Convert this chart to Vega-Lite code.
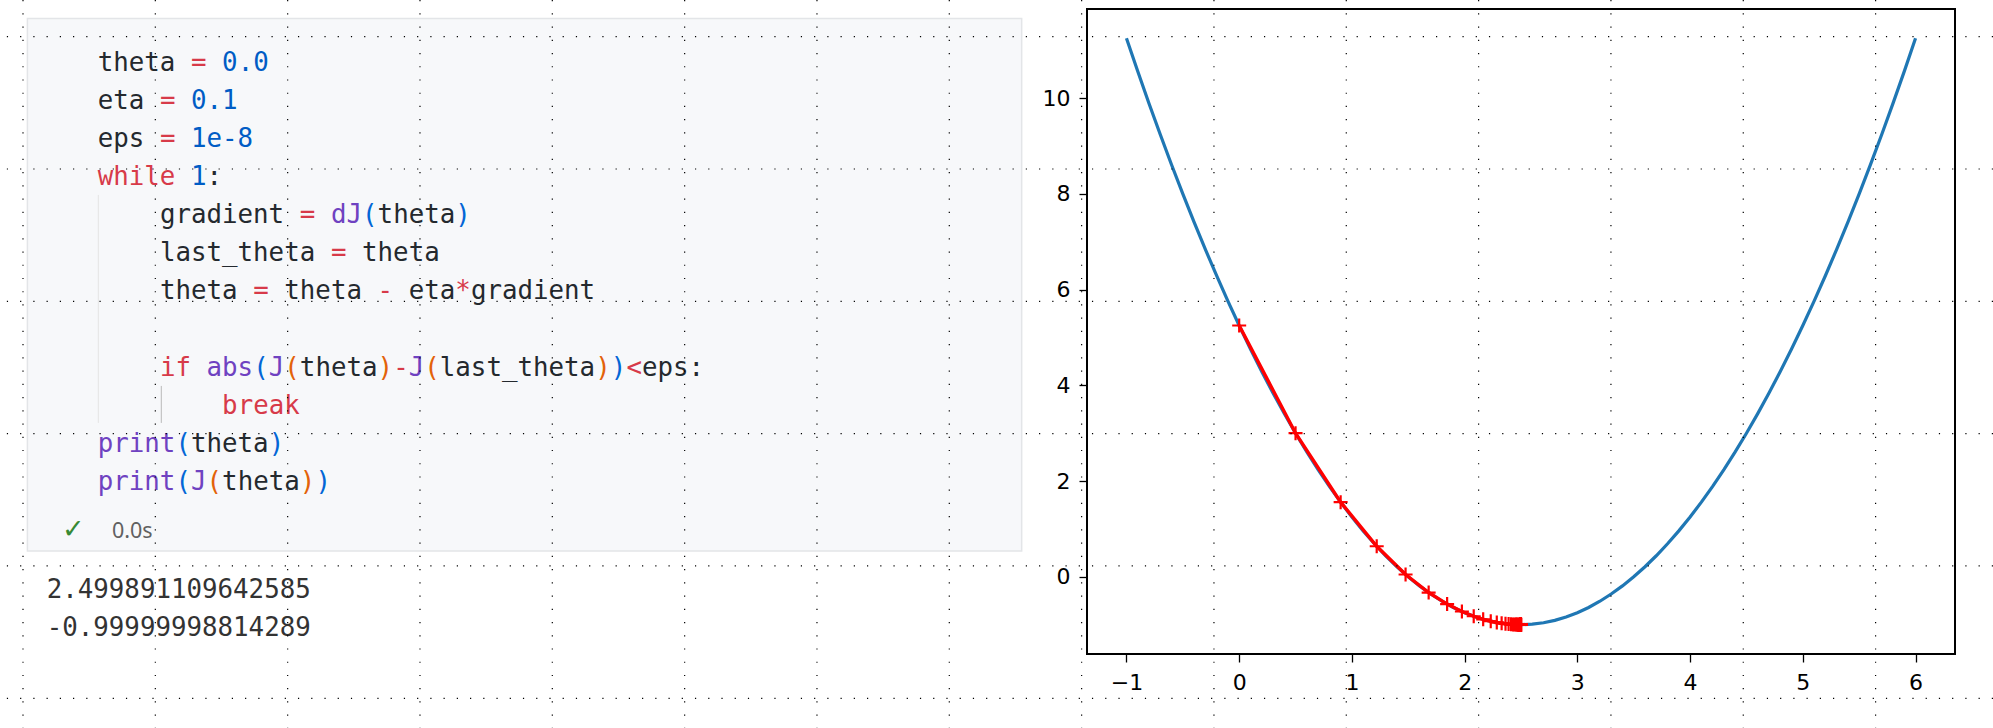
{
  "$schema": "https://vega.github.io/schema/vega-lite/v6.json",
  "width": 1993,
  "height": 728,
  "padding": 0,
  "autosize": {"type": "none"},
  "background": "white",
  "config": {"view": {"stroke": null}},
  "datasets": {
    "gridv": [{"gx":0},{"gx":1},{"gx":2},{"gx":3},{"gx":4},{"gx":5},{"gx":6},{"gx":7},{"gx":8},{"gx":9},{"gx":10},{"gx":11},{"gx":12},{"gx":13},{"gx":14}],
    "gridh": [{"gy":0},{"gy":1},{"gy":2},{"gy":3},{"gy":4},{"gy":5}],
    "cell": [{"c1":-4.52,"c2":59.42,"l1":-1.369,"l2":12.6}],
    "guides": [{"col":0.04,"l1":3.26,"l2":9.24,"kind":"inactive"},{"col":4.09,"l1":8.27,"l2":9.24,"kind":"active"}],
    "code": [
      {"line":0,"col":0,"text":"theta","kind":"t"},{"line":0,"col":6,"text":"=","kind":"o"},{"line":0,"col":8,"text":"0.0","kind":"n"},
      {"line":1,"col":0,"text":"eta","kind":"t"},{"line":1,"col":4,"text":"=","kind":"o"},{"line":1,"col":6,"text":"0.1","kind":"n"},
      {"line":2,"col":0,"text":"eps","kind":"t"},{"line":2,"col":4,"text":"=","kind":"o"},{"line":2,"col":6,"text":"1e-8","kind":"n"},
      {"line":3,"col":0,"text":"while","kind":"k"},{"line":3,"col":6,"text":"1","kind":"n"},{"line":3,"col":7,"text":":","kind":"t"},
      {"line":4,"col":4,"text":"gradient","kind":"t"},{"line":4,"col":13,"text":"=","kind":"o"},{"line":4,"col":15,"text":"dJ","kind":"f"},{"line":4,"col":17,"text":"(","kind":"b1"},{"line":4,"col":18,"text":"theta","kind":"t"},{"line":4,"col":23,"text":")","kind":"b1"},
      {"line":5,"col":4,"text":"last_theta","kind":"t"},{"line":5,"col":15,"text":"=","kind":"o"},{"line":5,"col":17,"text":"theta","kind":"t"},
      {"line":6,"col":4,"text":"theta","kind":"t"},{"line":6,"col":10,"text":"=","kind":"o"},{"line":6,"col":12,"text":"theta","kind":"t"},{"line":6,"col":18,"text":"-","kind":"o"},{"line":6,"col":20,"text":"eta","kind":"t"},{"line":6,"col":23,"text":"*","kind":"o"},{"line":6,"col":24,"text":"gradient","kind":"t"},
      {"line":8,"col":4,"text":"if","kind":"k"},{"line":8,"col":7,"text":"abs","kind":"f"},{"line":8,"col":10,"text":"(","kind":"b1"},{"line":8,"col":11,"text":"J","kind":"f"},{"line":8,"col":12,"text":"(","kind":"b2"},{"line":8,"col":13,"text":"theta","kind":"t"},{"line":8,"col":18,"text":")","kind":"b2"},{"line":8,"col":19,"text":"-","kind":"o"},{"line":8,"col":20,"text":"J","kind":"f"},{"line":8,"col":21,"text":"(","kind":"b2"},{"line":8,"col":22,"text":"last_theta","kind":"t"},{"line":8,"col":32,"text":")","kind":"b2"},{"line":8,"col":33,"text":")","kind":"b1"},{"line":8,"col":34,"text":"<","kind":"o"},{"line":8,"col":35,"text":"eps:","kind":"t"},
      {"line":9,"col":8,"text":"break","kind":"k"},
      {"line":10,"col":0,"text":"print","kind":"f"},{"line":10,"col":5,"text":"(","kind":"b1"},{"line":10,"col":6,"text":"theta","kind":"t"},{"line":10,"col":11,"text":")","kind":"b1"},
      {"line":11,"col":0,"text":"print","kind":"f"},{"line":11,"col":5,"text":"(","kind":"b1"},{"line":11,"col":6,"text":"J","kind":"f"},{"line":11,"col":7,"text":"(","kind":"b2"},{"line":11,"col":8,"text":"theta","kind":"t"},{"line":11,"col":13,"text":")","kind":"b2"},{"line":11,"col":14,"text":")","kind":"b1"}
    ],
    "output": [{"line":13.84,"col":-3.28,"text":"2.499891109642585"},{"line":14.83,"col":-3.28,"text":"-0.99999998814289"}],
    "check": [{"line":12.27,"col":-2.3,"text":"✓"}],
    "time": [{"line":12.27,"col":0.92,"text":"0.0s"}],
    "frame": [{"x1":-1.35,"x2":6.35,"y1":-1.6125,"y2":11.8625}],
    "curve": [
      {"x":-1.0,"J":11.25},{"x":-0.9,"J":10.56},{"x":-0.8,"J":9.89},{"x":-0.7,"J":9.24},{"x":-0.6,"J":8.61},{"x":-0.5,"J":8.0},{"x":-0.4,"J":7.41},{"x":-0.3,"J":6.84},{"x":-0.2,"J":6.29},{"x":-0.1,"J":5.76},
      {"x":0.0,"J":5.25},{"x":0.1,"J":4.76},{"x":0.2,"J":4.29},{"x":0.3,"J":3.84},{"x":0.4,"J":3.41},{"x":0.5,"J":3.0},{"x":0.6,"J":2.61},{"x":0.7,"J":2.24},{"x":0.8,"J":1.89},{"x":0.9,"J":1.56},
      {"x":1.0,"J":1.25},{"x":1.1,"J":0.96},{"x":1.2,"J":0.69},{"x":1.3,"J":0.44},{"x":1.4,"J":0.21},{"x":1.5,"J":0.0},{"x":1.6,"J":-0.19},{"x":1.7,"J":-0.36},{"x":1.8,"J":-0.51},{"x":1.9,"J":-0.64},
      {"x":2.0,"J":-0.75},{"x":2.1,"J":-0.84},{"x":2.2,"J":-0.91},{"x":2.3,"J":-0.96},{"x":2.4,"J":-0.99},{"x":2.5,"J":-1.0},{"x":2.6,"J":-0.99},{"x":2.7,"J":-0.96},{"x":2.8,"J":-0.91},{"x":2.9,"J":-0.84},
      {"x":3.0,"J":-0.75},{"x":3.1,"J":-0.64},{"x":3.2,"J":-0.51},{"x":3.3,"J":-0.36},{"x":3.4,"J":-0.19},{"x":3.5,"J":0.0},{"x":3.6,"J":0.21},{"x":3.7,"J":0.44},{"x":3.8,"J":0.69},{"x":3.9,"J":0.96},
      {"x":4.0,"J":1.25},{"x":4.1,"J":1.56},{"x":4.2,"J":1.89},{"x":4.3,"J":2.24},{"x":4.4,"J":2.61},{"x":4.5,"J":3.0},{"x":4.6,"J":3.41},{"x":4.7,"J":3.84},{"x":4.8,"J":4.29},{"x":4.9,"J":4.76},
      {"x":5.0,"J":5.25},{"x":5.1,"J":5.76},{"x":5.2,"J":6.29},{"x":5.3,"J":6.84},{"x":5.4,"J":7.41},{"x":5.5,"J":8.0},{"x":5.6,"J":8.61},{"x":5.7,"J":9.24},{"x":5.8,"J":9.89},{"x":5.9,"J":10.56},{"x":6.0,"J":11.25}
    ],
    "history": [
      {"step":0,"theta":0.0,"J":5.25},{"step":1,"theta":0.5,"J":3.0},{"step":2,"theta":0.9,"J":1.56},{"step":3,"theta":1.22,"J":0.6384},{"step":4,"theta":1.476,"J":0.048576},
      {"step":5,"theta":1.6808,"J":-0.32891},{"step":6,"theta":1.84464,"J":-0.5705},{"step":7,"theta":1.975712,"J":-0.72512},{"step":8,"theta":2.0805696,"J":-0.82408},{"step":9,"theta":2.16445568,"J":-0.88741},
      {"step":10,"theta":2.23156454,"J":-0.92794},{"step":11,"theta":2.28525164,"J":-0.95388},{"step":12,"theta":2.32820131,"J":-0.97048},{"step":13,"theta":2.36256105,"J":-0.98111},{"step":14,"theta":2.39004884,"J":-0.98791},
      {"step":15,"theta":2.41203907,"J":-0.99226},{"step":16,"theta":2.42963126,"J":-0.99505},{"step":17,"theta":2.443705,"J":-0.99683},{"step":18,"theta":2.454964,"J":-0.99797},{"step":19,"theta":2.4639712,"J":-0.9987},
      {"step":20,"theta":2.47117696,"J":-0.99917},{"step":21,"theta":2.47694157,"J":-0.99947},{"step":22,"theta":2.48155326,"J":-0.99966},{"step":23,"theta":2.4852426,"J":-0.99978},{"step":24,"theta":2.48819408,"J":-0.99986},
      {"step":25,"theta":2.49055527,"J":-0.99991},{"step":26,"theta":2.49244421,"J":-0.99994},{"step":27,"theta":2.49395537,"J":-0.99996},{"step":28,"theta":2.4951643,"J":-0.99998},{"step":29,"theta":2.49613144,"J":-0.99999},
      {"step":30,"theta":2.49690515,"J":-0.99999},{"step":31,"theta":2.49752412,"J":-0.999994},{"step":32,"theta":2.4980193,"J":-0.999996},{"step":33,"theta":2.49841544,"J":-0.999997},{"step":34,"theta":2.49873235,"J":-0.999998},
      {"step":35,"theta":2.49898588,"J":-0.999999},{"step":36,"theta":2.4991887,"J":-0.999999},{"step":37,"theta":2.49935096,"J":-1.0},{"step":38,"theta":2.49948077,"J":-1.0},{"step":39,"theta":2.49958462,"J":-1.0},
      {"step":40,"theta":2.49966769,"J":-1.0},{"step":41,"theta":2.49973415,"J":-1.0},{"step":42,"theta":2.49978732,"J":-1.0},{"step":43,"theta":2.49982986,"J":-1.0},{"step":44,"theta":2.49986389,"J":-1.0},
      {"step":45,"theta":2.49989111,"J":-1.0}
    ]
  },
  "layer": [
    {
      "layer": [
        {
          "data": {"name": "cell"},
          "mark": {"type": "rect", "fill": "#f7f8fa", "stroke": "#e3e5e8", "strokeWidth": 1.5},
          "encoding": {
            "x": {"field": "c1", "type": "quantitative", "scale": {"domain": [0, 10], "range": [97.7, 253.2], "nice": false, "zero": false}, "axis": null},
            "x2": {"field": "c2"},
            "y": {"field": "l1", "type": "quantitative", "scale": {"domain": [0, 11], "range": [70.7, 490], "nice": false, "zero": false}, "axis": null},
            "y2": {"field": "l2"}
          }
        },
        {
          "data": {"name": "guides"},
          "mark": {"type": "rule", "strokeWidth": 1},
          "encoding": {
            "x": {"field": "col", "type": "quantitative", "scale": {"domain": [0, 10], "range": [97.7, 253.2], "nice": false, "zero": false}, "axis": null},
            "y": {"field": "l1", "type": "quantitative", "scale": {"domain": [0, 11], "range": [70.7, 490], "nice": false, "zero": false}, "axis": null},
            "y2": {"field": "l2"},
            "stroke": {"field": "kind", "type": "nominal", "scale": {"domain": ["inactive", "active"], "range": ["#e4e4e4", "#b9b9b9"]}, "legend": null}
          }
        },
        {
          "data": {"name": "code"},
          "mark": {"type": "text", "align": "left", "baseline": "alphabetic", "font": "DejaVu Sans Mono", "fontSize": 25.8},
          "encoding": {
            "x": {"field": "col", "type": "quantitative", "scale": {"domain": [0, 10], "range": [97.7, 253.2], "nice": false, "zero": false}, "axis": null},
            "y": {"field": "line", "type": "quantitative", "scale": {"domain": [0, 11], "range": [70.7, 490], "nice": false, "zero": false}, "axis": null},
            "text": {"field": "text"},
            "color": {"field": "kind", "type": "nominal", "scale": {"domain": ["t", "o", "n", "k", "f", "b1", "b2"], "range": ["#24292e", "#d73a49", "#005cc5", "#d73a49", "#6f42c1", "#0366d6", "#e36209"]}, "legend": null}
          }
        },
        {
          "data": {"name": "output"},
          "mark": {"type": "text", "align": "left", "baseline": "alphabetic", "font": "DejaVu Sans Mono", "fontSize": 25.8, "color": "#333333"},
          "encoding": {
            "x": {"field": "col", "type": "quantitative", "scale": {"domain": [0, 10], "range": [97.7, 253.2], "nice": false, "zero": false}, "axis": null},
            "y": {"field": "line", "type": "quantitative", "scale": {"domain": [0, 11], "range": [70.7, 490], "nice": false, "zero": false}, "axis": null},
            "text": {"field": "text"}
          }
        },
        {
          "data": {"name": "check"},
          "mark": {"type": "text", "align": "left", "baseline": "alphabetic", "font": "DejaVu Sans", "fontSize": 27, "fontWeight": 300, "color": "#388a34"},
          "encoding": {
            "x": {"field": "col", "type": "quantitative", "scale": {"domain": [0, 10], "range": [97.7, 253.2], "nice": false, "zero": false}, "axis": null},
            "y": {"field": "line", "type": "quantitative", "scale": {"domain": [0, 11], "range": [70.7, 490], "nice": false, "zero": false}, "axis": null},
            "text": {"field": "text"}
          }
        },
        {
          "data": {"name": "time"},
          "mark": {"type": "text", "align": "left", "baseline": "alphabetic", "font": "Noto Sans", "fontSize": 21.5, "color": "#616161"},
          "encoding": {
            "x": {"field": "col", "type": "quantitative", "scale": {"domain": [0, 10], "range": [97.7, 253.2], "nice": false, "zero": false}, "axis": null},
            "y": {"field": "line", "type": "quantitative", "scale": {"domain": [0, 11], "range": [70.7, 490], "nice": false, "zero": false}, "axis": null},
            "text": {"field": "text"}
          }
        }
      ]
    },
    {
      "layer": [
        {
          "data": {"name": "curve"},
          "mark": {"type": "line", "color": "#1f77b4", "strokeWidth": 3.2},
          "encoding": {
            "x": {"field": "x", "type": "quantitative", "scale": {"domain": [-1.35, 6.35], "range": [1087, 1955], "nice": false, "zero": false},
              "axis": {"orient": "bottom", "offset": -74, "values": [-1, 0, 1, 2, 3, 4, 5, 6], "format": "d", "domain": false, "grid": false, "tickSize": 8, "tickWidth": 1.3, "tickColor": "#000000", "labelFont": "DejaVu Sans", "labelFontSize": 22, "labelColor": "#000000", "labelPadding": 10, "labelFlush": false, "labelOverlap": false, "title": null, "labelExpr": "datum.value < 0 ? '−' + abs(datum.value) : '' + datum.value"}},
            "y": {"field": "J", "type": "quantitative", "scale": {"domain": [-1.6125, 11.8625], "range": [654, 9], "nice": false, "zero": false},
              "axis": {"orient": "left", "offset": -1087, "values": [0, 2, 4, 6, 8, 10], "format": "d", "domain": false, "grid": false, "tickSize": 8, "tickWidth": 1.3, "tickColor": "#000000", "labelFont": "DejaVu Sans", "labelFontSize": 22, "labelColor": "#000000", "labelPadding": 9, "labelFlush": false, "labelOverlap": false, "title": null}}
          }
        },
        {
          "data": {"name": "history"},
          "mark": {"type": "line", "color": "#ff0000", "strokeWidth": 3.4},
          "encoding": {
            "x": {"field": "theta", "type": "quantitative"},
            "y": {"field": "J", "type": "quantitative"},
            "order": {"field": "step", "type": "quantitative"}
          }
        },
        {
          "data": {"name": "history"},
          "mark": {"type": "point", "shape": "M-1,0L1,0M0,-1L0,1", "filled": false, "stroke": "#ff0000", "strokeWidth": 2.2, "size": 196, "opacity": 1},
          "encoding": {
            "x": {"field": "theta", "type": "quantitative"},
            "y": {"field": "J", "type": "quantitative"}
          }
        },
        {
          "data": {"name": "frame"},
          "mark": {"type": "rect", "fill": null, "fillOpacity": 0, "stroke": "#000000", "strokeWidth": 2},
          "encoding": {
            "x": {"field": "x1", "type": "quantitative"},
            "x2": {"field": "x2"},
            "y": {"field": "y1", "type": "quantitative"},
            "y2": {"field": "y2"}
          }
        }
      ]
    },
    {
      "layer": [
        {
          "data": {"name": "gridv"},
          "mark": {"type": "rule", "stroke": "#000000", "strokeWidth": 1.2, "strokeDash": [1.2, 12.033], "strokeDashOffset": 0},
          "encoding": {
            "x": {"field": "gx", "type": "quantitative", "scale": {"domain": [0, 14], "range": [23, 1875.6], "nice": false, "zero": false}, "axis": null}
          }
        },
        {
          "data": {"name": "gridh"},
          "mark": {"type": "rule", "stroke": "#000000", "strokeWidth": 1.2, "strokeDash": [1.2, 12.033], "strokeDashOffset": 0},
          "encoding": {
            "y": {"field": "gy", "type": "quantitative", "scale": {"domain": [0, 5], "range": [36.67, 698.3], "nice": false, "zero": false}, "axis": null}
          }
        }
      ]
    }
  ],
  "resolve": {"scale": {"x": "independent", "y": "independent", "color": "independent", "stroke": "independent"}, "axis": {"x": "independent", "y": "independent"}}
}
